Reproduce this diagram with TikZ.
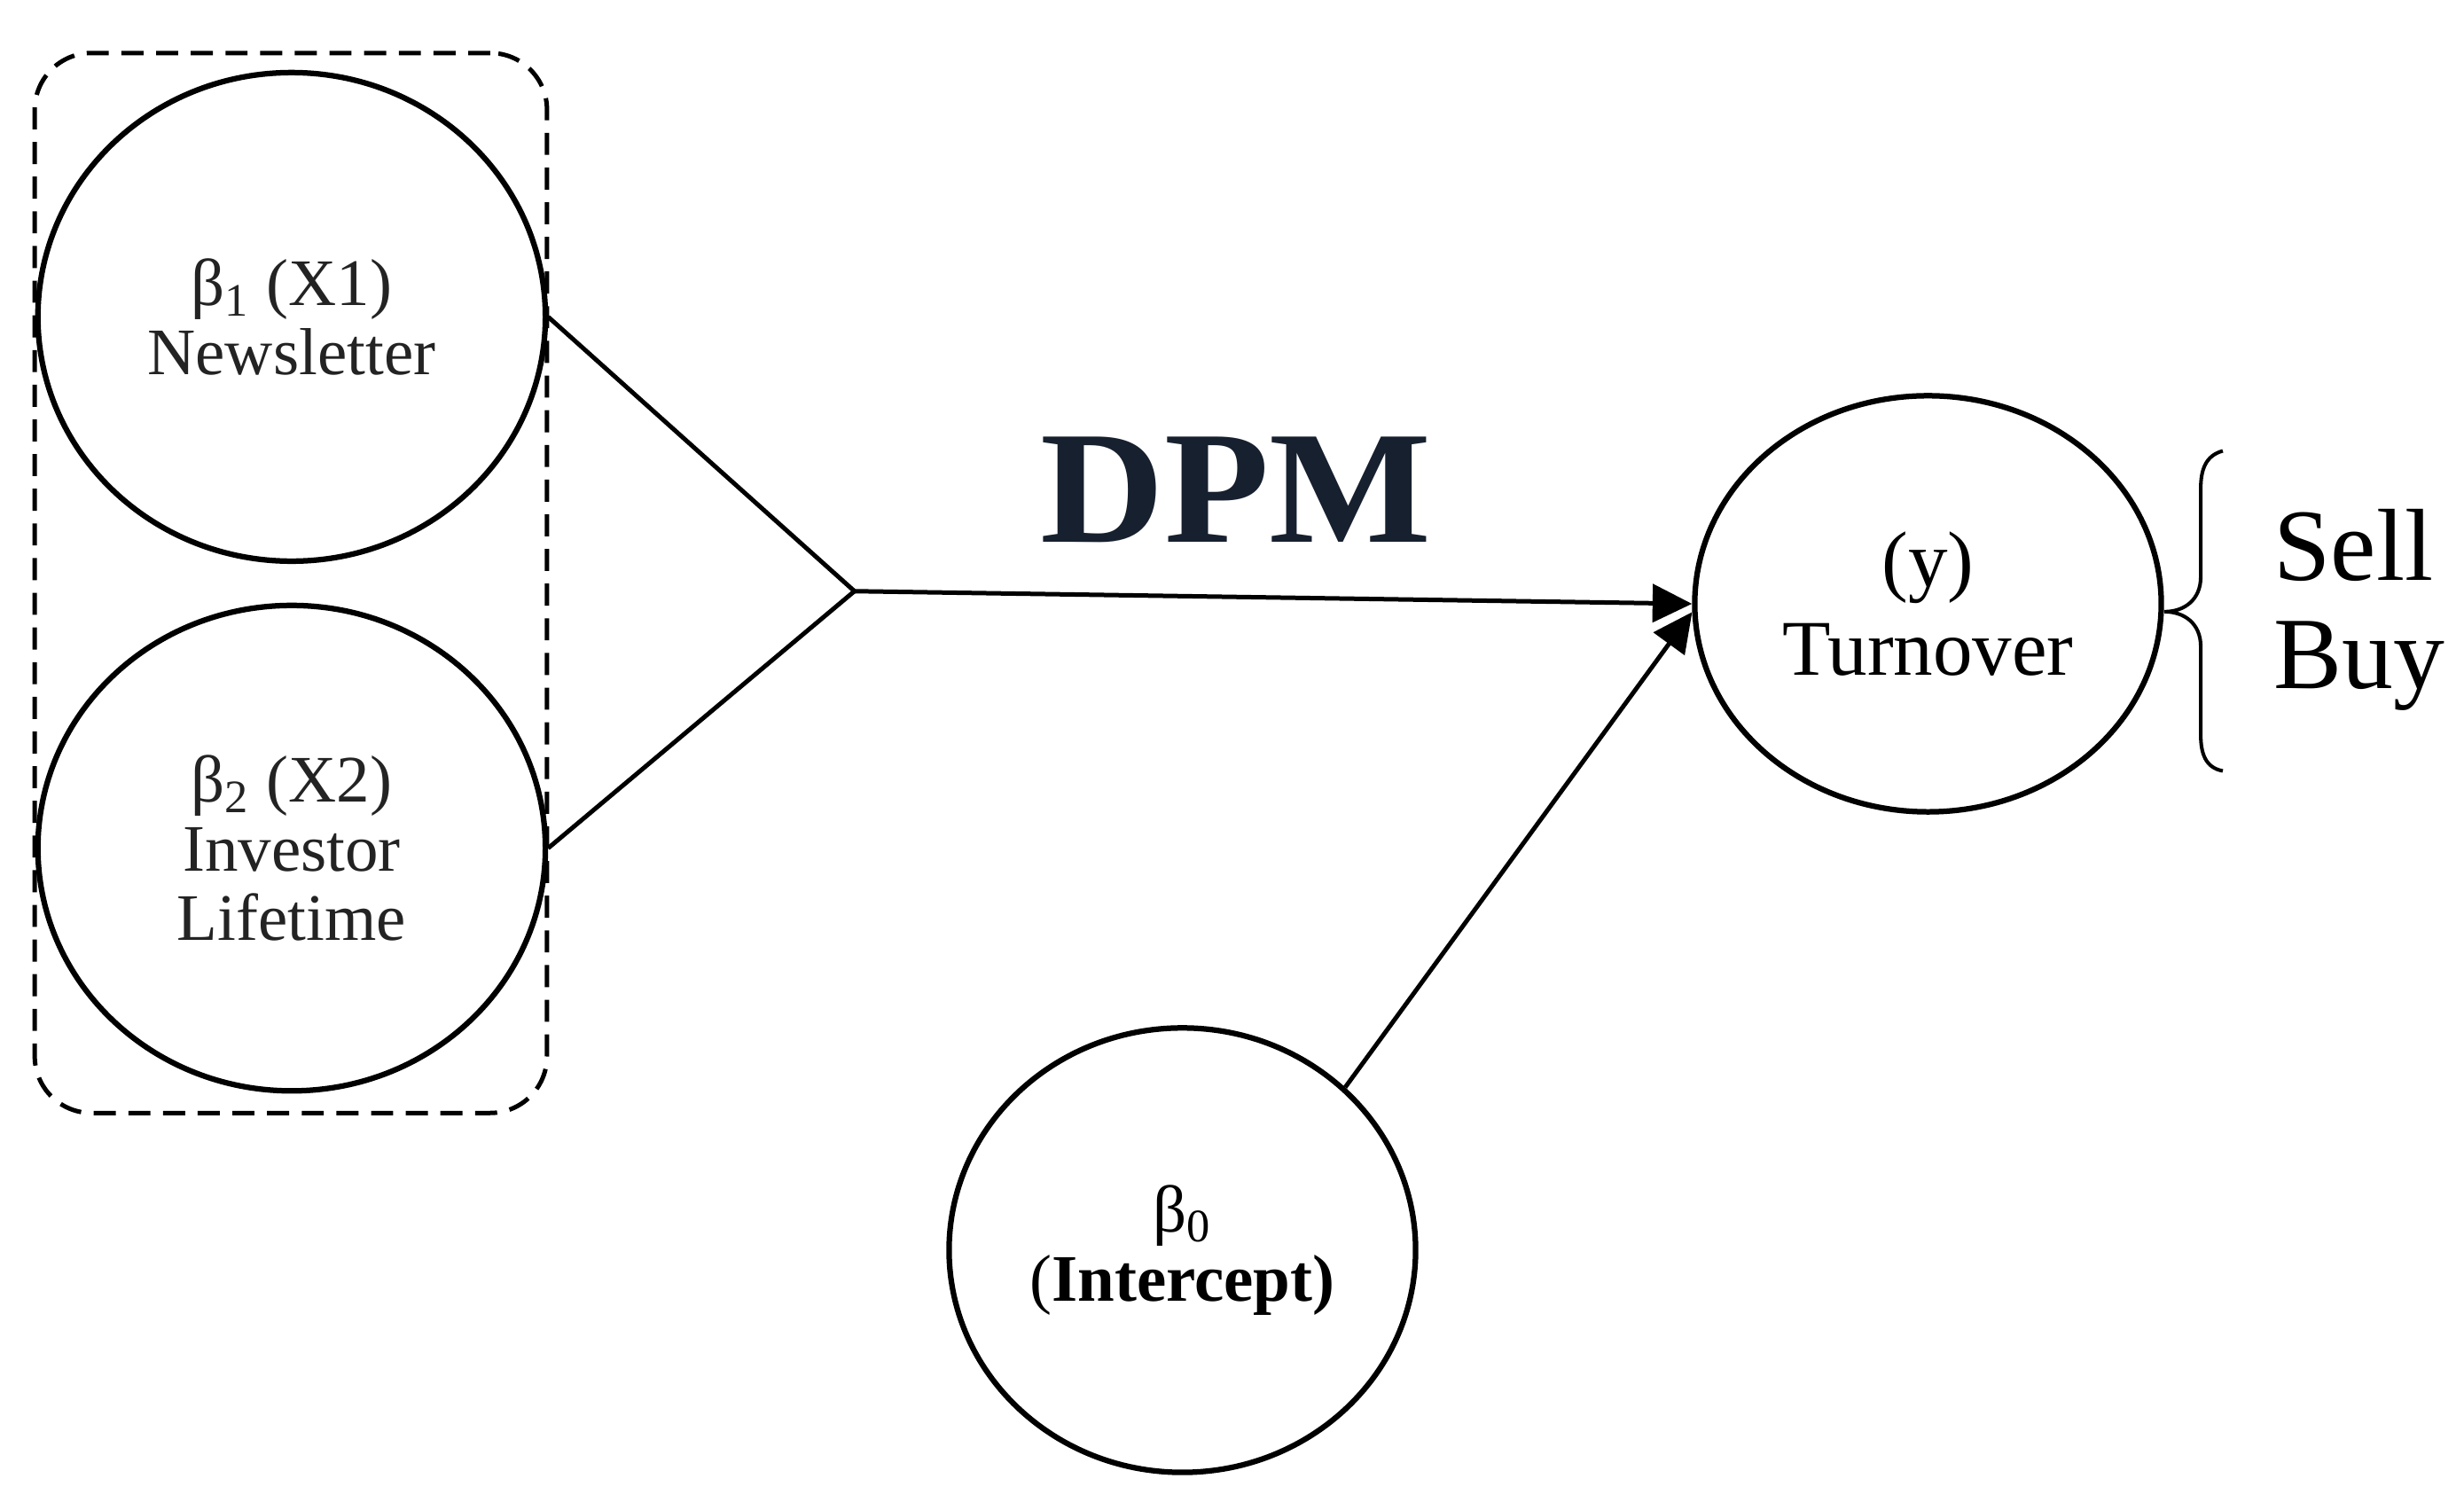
\documentclass[tikz,border=0pt]{standalone}
\usepackage{fontspec}
\setmainfont{Liberation Serif}
\usetikzlibrary{shapes.geometric,arrows.meta}
\definecolor{dpmnavy}{RGB}{23,32,46}
\definecolor{textgray}{RGB}{35,35,35}
\begin{document}
\begin{tikzpicture}[x=0.02cm,y=-0.02cm,
  var/.style={ellipse, draw, line width=2pt, inner sep=0pt, align=center},
  conn/.style={line width=1.6pt, line join=round},
  arr/.style={conn, -{Triangle[length=0.5cm,width=0.48cm]}},
  smalltxt/.style={font=\fontsize{24}{25}\selectfont, text=textgray},
  bigtxt/.style={font=\fontsize{28.5}{32}\selectfont},
  sidetxt/.style={font=\fontsize{37}{39}\selectfont, inner sep=0pt, anchor=base west},
  dpmtxt/.style={font=\fontsize{58}{60}\selectfont\bfseries, inner sep=0pt, anchor=base, text=dpmnavy},
  grpbox/.style={draw, line width=1.6pt, dash pattern=on 0.28cm off 0.16cm, rounded corners=0.72cm, inner sep=0pt}
]
\useasboundingbox (0,0) rectangle (1563,952.2);

% dashed group
\node[grpbox, minimum width=6.5cm, minimum height=13.45cm] (grp) at (184.5,369.8) {};

% variables
\node[var, smalltxt, minimum width=6.44cm, minimum height=6.2cm] (x1) at (185,201)
  {β\textsubscript{1} (X1)\\Newsletter};
\node[var, smalltxt, minimum width=6.44cm, minimum height=6.16cm] (x2) at (185,538)
  {β\textsubscript{2} (X2)\\Investor\\Lifetime};
\node[var, bigtxt, minimum width=5.92cm, minimum height=5.28cm] (turn) at (1223,383)
  {(y)\\Turnover};
\node[var, smalltxt, text=black, minimum width=5.92cm, minimum height=5.64cm] (b0) at (750,793)
  {β\textsubscript{0}\\(\textbf{Intercept)}};

% DPM label
\node[dpmtxt] (dpm) at (784,344) {\scalebox{1.07}[1]{DPM}};

% connectors
\coordinate (jn) at (542,375);
\draw[conn] (x1.east) -- (jn) -- (x2.east);
\draw[arr] (jn) -- (turn.west);
\draw[arr] (b0.45) -- (turn.182);

% brace and outcomes
\coordinate (bb) at (1410,489);
\coordinate (bt) at (1410,286);
\coordinate (btip) at (1373,388);
\draw[line width=1.3pt] (bt) .. controls (1399,289) and (1396,298) .. (1396,310)
  -- (1396,366) .. controls (1396,380) and (1386,388) .. (btip)
  .. controls (1386,388) and (1396,396) .. (1396,410)
  -- (1396,466) .. controls (1396,478) and (1399,487) .. (bb);
\node[sidetxt] (sell) at (1442,368) {Sell};
\node[sidetxt] (buy) at (1442,437) {Buy};
\end{tikzpicture}
\end{document}
